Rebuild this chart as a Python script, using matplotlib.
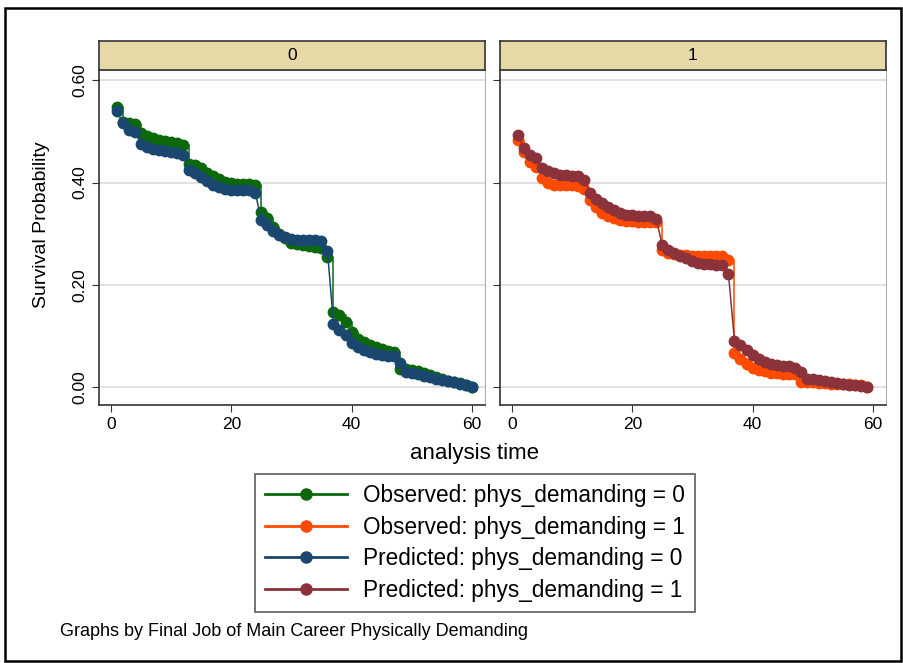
import numpy as np
import matplotlib.pyplot as plt
from matplotlib.patches import Rectangle
from matplotlib.lines import Line2D

plt.rcParams['font.family'] = ['Liberation Sans', 'DejaVu Sans']

# time points (months)
t0 = list(range(1, 61))
t1 = list(range(1, 60))

# group 0 (phys_demanding = 0)
obs0 = [0.548, 0.518, 0.516, 0.514, 0.497, 0.490, 0.487, 0.484, 0.481, 0.479,
        0.477, 0.474, 0.437, 0.434, 0.428, 0.418, 0.412, 0.406, 0.401, 0.399,
        0.398, 0.398, 0.398, 0.396, 0.343, 0.330, 0.314, 0.300, 0.292, 0.281,
        0.279, 0.277, 0.275, 0.273, 0.272, 0.254, 0.146, 0.140, 0.128, 0.108,
        0.094, 0.088, 0.083, 0.078, 0.074, 0.070, 0.068, 0.036, 0.035, 0.034,
        0.032, 0.028, 0.024, 0.019, 0.016, 0.012, 0.010, 0.008, 0.005, 0.001]
pred0 = [0.539, 0.516, 0.503, 0.498, 0.476, 0.470, 0.466, 0.463, 0.461, 0.460,
         0.458, 0.453, 0.424, 0.418, 0.410, 0.402, 0.396, 0.391, 0.388, 0.386,
         0.385, 0.385, 0.385, 0.380, 0.326, 0.316, 0.306, 0.298, 0.293, 0.290,
         0.288, 0.288, 0.287, 0.287, 0.286, 0.266, 0.124, 0.112, 0.101, 0.086,
         0.078, 0.072, 0.068, 0.065, 0.063, 0.061, 0.060, 0.048, 0.029, 0.027,
         0.025, 0.022, 0.019, 0.016, 0.013, 0.011, 0.009, 0.007, 0.004, 0.001]

# group 1 (phys_demanding = 1)
obs1 = [0.484, 0.460, 0.441, 0.431, 0.408, 0.400, 0.396, 0.395, 0.395, 0.395,
        0.394, 0.388, 0.365, 0.352, 0.340, 0.334, 0.330, 0.327, 0.325, 0.324,
        0.323, 0.323, 0.323, 0.322, 0.268, 0.263, 0.261, 0.259, 0.258, 0.257,
        0.257, 0.257, 0.257, 0.257, 0.257, 0.248, 0.067, 0.054, 0.045, 0.038,
        0.034, 0.031, 0.028, 0.027, 0.026, 0.025, 0.025, 0.010, 0.009, 0.009,
        0.008, 0.008, 0.007, 0.007, 0.006, 0.006, 0.005, 0.004, 0.001]
pred1 = [0.493, 0.467, 0.454, 0.448, 0.428, 0.422, 0.418, 0.415, 0.414, 0.413,
         0.412, 0.405, 0.379, 0.368, 0.360, 0.352, 0.346, 0.341, 0.337, 0.336,
         0.335, 0.335, 0.335, 0.328, 0.277, 0.268, 0.262, 0.256, 0.252, 0.247,
         0.243, 0.241, 0.240, 0.239, 0.238, 0.221, 0.090, 0.082, 0.072, 0.062,
         0.055, 0.049, 0.046, 0.043, 0.042, 0.041, 0.038, 0.030, 0.015, 0.015,
         0.014, 0.012, 0.010, 0.008, 0.006, 0.005, 0.004, 0.003, 0.001]

labels = ["Observed: phys_demanding = 0", "Observed: phys_demanding = 1",
          "Predicted: phys_demanding = 0", "Predicted: phys_demanding = 1"]
colors = ["#0b680b", "#ff4a00", "#1a476f", "#8b323a"]

W, H = 904, 663
fig = plt.figure(figsize=(W / 100, H / 100), dpi=100)

def px(x0, y0, x1, y1):
    return [x0 / W, 1 - y1 / H, (x1 - x0) / W, (y1 - y0) / H]

panels = [(99, "0", t0, obs0, pred0, colors[0], colors[2]),
          (500, "1", t1, obs1, pred1, colors[1], colors[3])]

for i, (left, title, t, obs, pred, c_obs, c_pred) in enumerate(panels):
    ax = fig.add_axes(px(left, 70, left + 386, 405))
    ax.plot(t, obs, color=c_obs, lw=1.1, drawstyle='steps-post')
    ax.plot(t, obs, color=c_obs, lw=0, marker='o', ms=7.5)
    ax.plot(t, pred, color=c_pred, lw=1.1, marker='o', ms=7.5)
    ax.set_xlim(-2, 62.2)
    ax.set_ylim(-0.035, 0.62)
    ax.set_xticks([0, 20, 40, 60])
    ax.set_yticks([0, 0.2, 0.4, 0.6])
    ax.set_yticklabels(["0.00", "0.20", "0.40", "0.60"] if i == 0 else [],
                       rotation=90, va='center')
    ax.grid(axis='y', color='#dcdcdc', lw=1.2)
    ax.set_axisbelow(True)
    ax.tick_params(labelsize=12.5, color='#333333', length=5)
    for s in ['top', 'right']:
        ax.spines[s].set_color('#b0b0b0')
    for s in ['left', 'bottom']:
        ax.spines[s].set_color('#333333')
        ax.spines[s].set_linewidth(1.2)
    # strip
    sax = fig.add_axes(px(left, 41, left + 386, 70))
    sax.set_facecolor('#e6d9a7')
    sax.set_xticks([])
    sax.set_yticks([])
    for s in sax.spines.values():
        s.set_color('#333333')
        s.set_linewidth(1.2)
    sax.text(0.5, 0.5, title, ha='center', va='center', fontsize=12.5,
             transform=sax.transAxes)

fig.text(475 / W, 1 - 453 / H, "analysis time", ha='center', va='center', fontsize=16)
fig.text(42 / W, 1 - 225 / H, "Survival Probability", ha='center', va='center',
         fontsize=14, rotation=90)
fig.text(60 / W, 1 - 632 / H, "Graphs by Final Job of Main Career Physically Demanding",
         ha='left', va='center', fontsize=13)

handles = [Line2D([], [], color=c, lw=2, marker='o', ms=8) for c in colors]
leg = fig.legend(handles, labels, loc='center', bbox_to_anchor=(475 / W, 1 - 543 / H),
                 fontsize=16.3, frameon=True, fancybox=False, edgecolor='#333333',
                 handlelength=3.6, handletextpad=0.7, labelspacing=0.38,
                 borderpad=0.45)
leg.get_frame().set_linewidth(1.2)

fig.patches.append(Rectangle((5 / W, 1 - 661 / H), 896 / W, 653 / H,
                             transform=fig.transFigure, fill=False,
                             edgecolor='black', lw=1.8))

fig.savefig("out.png", dpi=100)
